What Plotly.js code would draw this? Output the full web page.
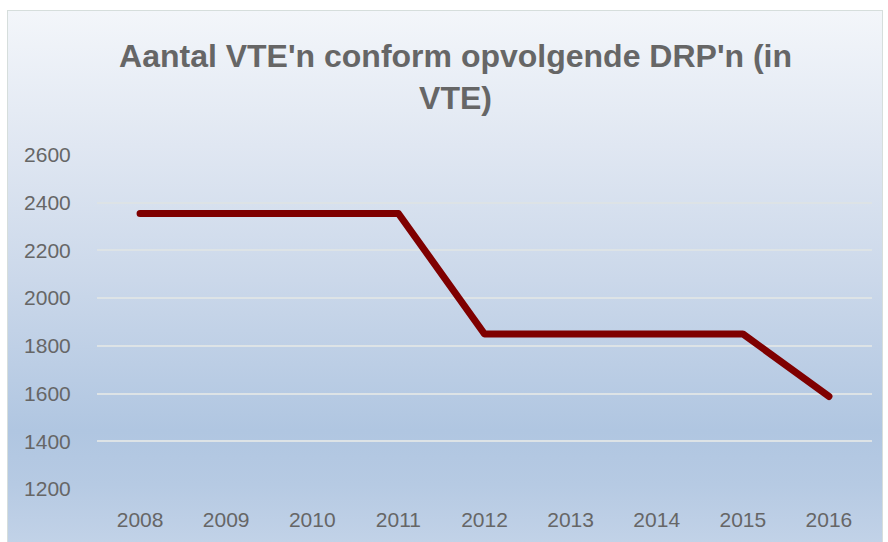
<!DOCTYPE html>
<html>
<head>
<meta charset="utf-8">
<script src="https://cdn.plot.ly/plotly-3.0.1.min.js"></script>
<style>
  html, body { margin:0; padding:0; background:#ffffff; }
  #wrap { position:relative; width:888px; height:542px; overflow:hidden; }
  #bg { position:absolute; left:7px; top:10px; width:876px; height:540px; box-sizing:border-box;
        border:1.5px solid #d6dedc;
        background: linear-gradient(to bottom, #f3f6fa 0%, #e0e7f2 25%, #cbd8ea 50%, #b0c6e1 78%, #b6cae3 88%, #c3d3e8 100%); }
  #chart { position:absolute; left:0; top:0; width:888px; height:542px; }
  #chart path.js-line { stroke-linecap: round !important; stroke-linejoin: round !important; }
</style>
</head>
<body>
<div id="wrap">
  <div id="bg"></div>
  <div id="chart"></div>
</div>
<script>
const years = ['2008','2009','2010','2011','2012','2013','2014','2015','2016'];
const vte = [2355, 2355, 2355, 2355, 1850, 1850, 1850, 1850, 1588];
const yTicks = [1200, 1400, 1600, 1800, 2000, 2200, 2400, 2600];
const titleText = "Aantal VTE'n conform opvolgende DRP'n (in<br>VTE)";

const trace = {
  x: years,
  y: vte,
  type: 'scatter',
  mode: 'lines',
  line: { color: '#7f0000', width: 7 },
  hoverinfo: 'x+y'
};

const layout = {
  width: 888,
  height: 542,
  paper_bgcolor: 'rgba(0,0,0,0)',
  plot_bgcolor: 'rgba(0,0,0,0)',
  margin: { l: 97, r: 16, t: 155, b: 53 },
  showlegend: false,
  title: {
    text: titleText,
    font: { family: 'Liberation Sans, Arial, sans-serif', size: 32, color: '#666666', weight: 'bold' },
    x: 0.513, xanchor: 'center',
    y: 0.876, yanchor: 'top'
  },
  xaxis: {
    type: 'category',
    range: [-0.5, 8.5],
    showgrid: false,
    zeroline: false,
    showline: false,
    ticks: 'outside',
    ticklen: 12,
    tickcolor: 'rgba(0,0,0,0)',
    tickfont: { family: 'Liberation Sans, Arial, sans-serif', size: 21, color: '#666666' }
  },
  yaxis: {
    range: [1200, 2600],
    tickvals: yTicks,
    ticktext: yTicks.map(String),
    showgrid: true,
    gridcolor: '#dde3e6',
    gridwidth: 2,
    zeroline: false,
    showline: false,
    ticks: 'outside',
    ticklen: 21,
    tickcolor: 'rgba(0,0,0,0)',
    tickfont: { family: 'Liberation Sans, Arial, sans-serif', size: 21, color: '#666666' }
  }
};

Plotly.newPlot('chart', [trace], layout, { displayModeBar: false, staticPlot: true });
</script>
</body>
</html>
